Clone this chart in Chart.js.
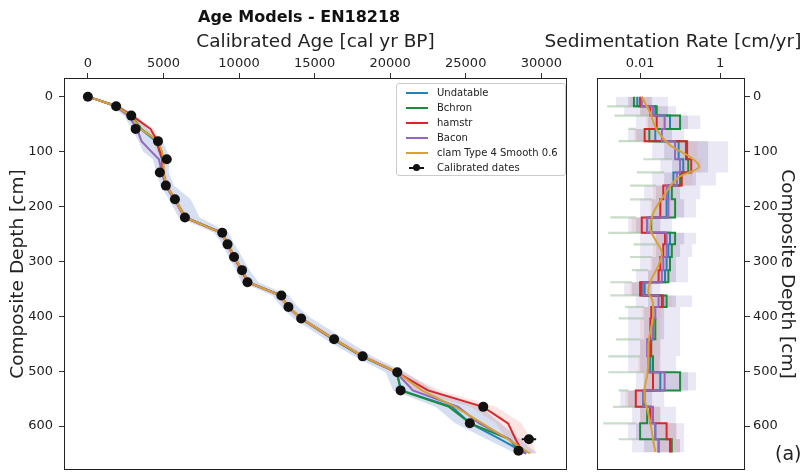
<!DOCTYPE html>
<html>
<head>
<meta charset="utf-8">
<title>Age Models - EN18218</title>
<script src="https://cdn.jsdelivr.net/npm/chart.js@4.4.1/dist/chart.umd.min.js"></script>
<style>
  html, body { margin: 0; padding: 0; background: #fff; }
  #wrap { position: relative; width: 806px; height: 475px; overflow: hidden; font-family: "DejaVu Sans", sans-serif; }
  #ageChart { position: absolute; left: 0; top: 0; }
  #rateChart { position: absolute; left: 540px; top: 0; }
  #mainTitle { position: absolute; left: 198px; top: 7px; font-size: 16px; line-height: 20px; font-weight: bold; color: #111; white-space: nowrap; }
  #legend { position: absolute; left: 396px; top: 83px; width: 170px; height: 93px; box-sizing: border-box;
            border: 1px solid #cccccc; border-radius: 3px; background: rgba(255,255,255,0.8);
            font-size: 10px; color: #222; }
  #legend .row { position: absolute; left: 0; height: 15px; line-height: 15px; white-space: nowrap; }
  #legend .sw { position: absolute; left: 9px; top: 6.5px; width: 22px; height: 0; border-top: 2px solid; }
  #legend .dot { position: absolute; left: 16px; top: 4px; width: 7px; height: 7px; border-radius: 50%; background: #111; }
  #legend .bar { position: absolute; left: 12px; top: 6.5px; width: 15px; height: 0; border-top: 2px solid #111; }
  #legend .tx { position: absolute; left: 40px; top: 0; }
  #tag { position: absolute; left: 775px; top: 442px; font-size: 19px; color: #222; }
</style>
</head>
<body>
<div id="wrap">
  <canvas id="ageChart" width="590" height="475"></canvas>
  <canvas id="rateChart" width="266" height="475"></canvas>
  <div id="mainTitle">Age Models - EN18218</div>
  <div id="legend"></div>
  <div id="tag">(a)</div>
</div>
<script>
// ---------- axis ticks ----------
const ageTicks = [0, 5000, 10000, 15000, 20000, 25000, 30000];
const depthTicks = [0, 100, 200, 300, 400, 500, 600];
const rateTicks = [0.01, 1];

// ---------- calibrated dates (age in cal yr BP, depth in cm) ----------
const dateDepth = [0, 17.6, 34.5, 58.7, 81, 114, 138, 162, 187, 220, 248, 269, 292, 316, 338, 362, 383, 404, 442, 473, 502, 535, 565, 595, 624, 645];
const dateAge   = [0, 1870, 2870, 3160, 4640, 5220, 4760, 5160, 5760, 6420, 8890, 9240, 9670, 10200, 10560, 12800, 13270, 14110, 16290, 18180, 20470, 20690, 26160, 25270, 29180, 28490];
const dateErr   = [60, 120, 120, 120, 150, 150, 150, 150, 150, 150, 150, 150, 150, 150, 150, 200, 200, 200, 200, 200, 200, 200, 250, 250, 480, 250];

// ---------- age-depth models ----------
const modelDepth   = [0, 17, 35, 59, 81, 100, 114, 138, 162, 187, 220, 248, 269, 292, 316, 338, 362, 383, 404, 442, 473, 502, 535, 565, 595, 624, 650];
const undatableAge = [0, 1850, 2850, 3500, 4500, 4750, 4900, 4950, 5150, 5750, 6450, 8850, 9250, 9700, 10200, 10600, 12700, 13250, 14100, 16250, 18150, 20400, 20750, 24100, 25300, 27300, 29000];
const bchronAge    = [0, 1850, 2900, 3550, 4600, 4800, 4950, 4950, 5150, 5750, 6450, 8850, 9250, 9700, 10200, 10600, 12750, 13250, 14100, 16250, 18150, 20450, 20700, 23900, 25300, 27900, 28700];
const hamstrAge    = [0, 1900, 2950, 4150, 4600, 4750, 4950, 5000, 5200, 5750, 6400, 8850, 9250, 9650, 10150, 10550, 12750, 13250, 14100, 16300, 18200, 20450, 22500, 26150, 27800, 28300, 28800];
const baconAge     = [0, 1800, 2700, 3250, 3550, 4200, 4700, 4900, 5150, 5700, 6500, 8800, 9250, 9700, 10200, 10650, 12700, 13250, 14150, 16300, 18200, 20400, 21500, 24500, 25900, 27900, 29000];
const clamAge      = [0, 1850, 2850, 3500, 4650, 4900, 5000, 5000, 5200, 5750, 6450, 8800, 9250, 9700, 10200, 10600, 12700, 13250, 14100, 16300, 18200, 20450, 22100, 24300, 26100, 27800, 29250];

// uncertainty envelopes (age)
const envLoAge = [0, 1500, 2400, 2900, 3350, 3650, 4300, 4550, 4800, 5350, 6000, 8350, 8900, 9300, 9800, 10150, 12200, 12800, 13600, 15700, 17600, 19700, 20200, 23000, 24300, 26400, 28300];
const envHiAge = [0, 2150, 3150, 3950, 4950, 5250, 5400, 5350, 5700, 6800, 7400, 9300, 9700, 10200, 10700, 11300, 13300, 13900, 14800, 17000, 18800, 21000, 22900, 26000, 27300, 28600, 29700];
const hamLoAge = [0, 1750, 2750, 3800, 4300, 4550, 4800, 4850, 5050, 5550, 6200, 8600, 9050, 9450, 9950, 10300, 12500, 13000, 13850, 16000, 17900, 20150, 21500, 25300, 27000, 27700, 28300];
const hamHiAge = [0, 2050, 3150, 4400, 4800, 4950, 5100, 5150, 5400, 5950, 6650, 9100, 9450, 9850, 10350, 10800, 13000, 13500, 14350, 16600, 18500, 20800, 23300, 27000, 28700, 29300, 29700];

// ---------- sedimentation rates (cm/yr), stepwise between segment depths ----------
const segDepth = [0, 17.6, 34.5, 58.7, 81, 114, 138, 162, 187, 220, 248, 269, 292, 316, 338, 362, 383, 404, 442, 473, 502, 535, 565, 595, 624, 648];
const undatableRate = [0.0085, 0.024, 0.056, 0.024, 0.092, 0.12, 0.068, 0.051, 0.046, 0.015, 0.056, 0.051, 0.046, 0.042, 0.013, 0.038, 0.021, 0.021, 0.016, 0.018, 0.032, 0.012, 0.018, 0.024, 0.029];
const bchronRate    = [0.0070, 0.026, 0.10, 0.017, 0.14, 0.16, 0.10, 0.062, 0.075, 0.019, 0.075, 0.062, 0.056, 0.051, 0.011, 0.046, 0.021, 0.024, 0.019, 0.021, 0.10, 0.013, 0.015, 0.010, 0.062];
const hamstrRate    = [0.010, 0.018, 0.026, 0.013, 0.15, 0.19, 0.11, 0.038, 0.032, 0.011, 0.042, 0.038, 0.032, 0.029, 0.010, 0.035, 0.019, 0.018, 0.018, 0.016, 0.021, 0.0078, 0.018, 0.046, 0.056];
const baconRate     = [0.011, 0.021, 0.041, 0.035, 0.075, 0.10, 0.083, 0.046, 0.051, 0.015, 0.046, 0.046, 0.038, 0.035, 0.012, 0.029, 0.024, 0.021, 0.015, 0.016, 0.041, 0.012, 0.021, 0.024, 0.029];
const clamRateDepth = [0, 30, 60, 90, 110, 127, 147, 177, 213, 240, 265, 285, 307, 337, 355, 375, 398, 428, 453, 478, 508, 532, 551, 569, 593, 624, 647];
const clamRate      = [0.011, 0.018, 0.026, 0.060, 0.18, 0.30, 0.091, 0.042, 0.021, 0.018, 0.026, 0.035, 0.029, 0.018, 0.016, 0.021, 0.021, 0.018, 0.016, 0.016, 0.015, 0.013, 0.013, 0.015, 0.018, 0.021, 0.024];

// rate uncertainty envelopes (per segment)
const outerLoRate = [0.0025, 0.004, 0.0079, 0.005, 0.02, 0.032, 0.02, 0.0126, 0.01, 0.005, 0.01, 0.01, 0.01, 0.0079, 0.004, 0.0079, 0.005, 0.005, 0.005, 0.005, 0.0079, 0.0032, 0.0063, 0.005, 0.0063];
const outerHiRate = [0.05, 0.079, 0.32, 0.126, 1.58, 1.58, 0.79, 0.32, 0.25, 0.063, 0.25, 0.2, 0.158, 0.158, 0.032, 0.2, 0.1, 0.1, 0.1, 0.079, 0.25, 0.04, 0.079, 0.126, 0.126];
const innerLoRate = [0.005, 0.01, 0.0158, 0.0079, 0.04, 0.063, 0.04, 0.025, 0.02, 0.0079, 0.025, 0.025, 0.02, 0.0158, 0.0063, 0.0158, 0.0126, 0.0126, 0.01, 0.01, 0.0126, 0.005, 0.01, 0.0079, 0.0126];
const innerHiRate = [0.02, 0.05, 0.158, 0.063, 0.5, 0.5, 0.25, 0.1, 0.126, 0.032, 0.126, 0.1, 0.079, 0.079, 0.02, 0.079, 0.04, 0.04, 0.032, 0.032, 0.158, 0.02, 0.032, 0.079, 0.1];
const hamLoRate   = [0.0056, 0.010, 0.014, 0.0072, 0.083, 0.10, 0.061, 0.021, 0.018, 0.0061, 0.023, 0.021, 0.018, 0.016, 0.0056, 0.019, 0.011, 0.010, 0.010, 0.0089, 0.012, 0.0043, 0.010, 0.026, 0.031];
const hamHiRate   = [0.018, 0.032, 0.047, 0.023, 0.27, 0.34, 0.20, 0.068, 0.058, 0.020, 0.076, 0.068, 0.058, 0.052, 0.018, 0.063, 0.034, 0.032, 0.032, 0.029, 0.038, 0.014, 0.032, 0.083, 0.10];
// low-rate whiskers of the Bchron range at each segment boundary
const spikeTipRate = [0.0015, 0.0023, 0.0051, 0.0029, 0.012, 0.0083, 0.0056, 0.0056, 0.0018, 0.0016, 0.0068, 0.0056, 0.0062, 0.0018, 0.0018, 0.0042, 0.0029, 0.0025, 0.0016, 0.0016, 0.0029, 0.0021, 0.0012, 0.0029];

// ---------- styling ----------
const FONT = '"DejaVu Sans", sans-serif';
const TEXT = '#222';
const LABEL_SIZE = 18.5;
const modelNames  = ['Undatable', 'Bchron', 'hamstr', 'Bacon', 'clam Type 4 Smooth 0.6'];
const modelColors = ['#2283b8', '#1b8c3b', '#d8262a', '#9467bd', '#d6a234'];

Chart.defaults.font.family = FONT;
Chart.defaults.color = TEXT;

const pairs = (xs, ys) => ys.map((y, i) => ({ x: xs[i], y }));
const steps = (rates) => segDepth.map((d, i) => ({ x: rates[Math.min(i, rates.length - 1)], y: d }));

// rectangular frame around the plotting area
const framePlugin = {
  id: 'frame',
  afterDraw(chart) {
    const { ctx, chartArea: a } = chart;
    ctx.save();
    ctx.strokeStyle = '#222';
    ctx.lineWidth = 1;
    const l = Math.round(a.left) + 0.5, t = Math.round(a.top) + 0.5;
    ctx.strokeRect(l, t, Math.round(a.right) - l - 0.5, Math.round(a.bottom) - t - 0.5);
    ctx.restore();
  }
};

// fixed axis thickness; no extra room reserved for end labels
const fixWidth = w => s => { s.width = w; s.paddingTop = 0; s.paddingBottom = 0; };
const fixHeight = h => s => { s.height = h; s.paddingLeft = 0; s.paddingRight = 0; };

const tickGrid = { display: true, drawOnChartArea: false, drawTicks: true, tickLength: 5, color: '#333', lineWidth: 1 };
const line = (label, data, color, order, extra) => Object.assign({
  label, data, borderColor: color, backgroundColor: color, borderWidth: 2,
  pointRadius: 0, fill: false, tension: 0, order
}, extra || {});
const edge = (data, order, extra) => Object.assign({
  data, borderWidth: 0, borderColor: 'rgba(0,0,0,0)', pointRadius: 0, fill: false, tension: 0, order
}, extra || {});

// ---------- age-depth panel ----------
const errPts = [];
dateDepth.forEach((d, i) => {
  errPts.push({ x: dateAge[i] - dateErr[i], y: d }, { x: dateAge[i] + dateErr[i], y: d }, { x: null, y: d });
});

new Chart(document.getElementById('ageChart'), {
  type: 'line',
  data: {
    datasets: [
      { label: 'Calibrated dates', data: pairs(dateAge, dateDepth), showLine: false, pointRadius: 5,
        pointBackgroundColor: '#111', pointBorderWidth: 0, order: 0 },
      line('dateErr', errPts, '#111', 0, { borderWidth: 2, spanGaps: false }),
      line(modelNames[4], pairs(clamAge, modelDepth), modelColors[4], 1),
      line(modelNames[3], pairs(baconAge, modelDepth), modelColors[3], 2),
      line(modelNames[2], pairs(hamstrAge, modelDepth), modelColors[2], 3),
      line(modelNames[1], pairs(bchronAge, modelDepth), modelColors[1], 4),
      line(modelNames[0], pairs(undatableAge, modelDepth), modelColors[0], 5),
      edge(pairs(envLoAge, modelDepth), 20),
      edge(pairs(envHiAge, modelDepth), 20, { fill: 7, backgroundColor: 'rgba(120,150,210,0.3)' }),
      edge(pairs(hamLoAge, modelDepth), 19),
      edge(pairs(hamHiAge, modelDepth), 19, { fill: 9, backgroundColor: 'rgba(225,110,95,0.18)' })
    ]
  },
  options: {
    responsive: false, animation: false, indexAxis: 'y',
    layout: { padding: { left: 0, right: 23, top: 0, bottom: 5 } },
    plugins: { legend: { display: false }, tooltip: { enabled: false } },
    scales: {
      x: {
        type: 'linear', position: 'top', min: -1580, max: 31700,
        afterBuildTicks: s => { s.ticks = ageTicks.map(v => ({ value: v })); },
        afterFit: fixHeight(78),
        ticks: { font: { size: 13 }, padding: 2, maxRotation: 0, autoSkip: false, callback: v => String(v) },
        grid: tickGrid, border: { display: false },
        title: { display: true, text: 'Calibrated Age [cal yr BP]', font: { size: LABEL_SIZE }, padding: { top: 30.9, bottom: 0 } }
      },
      y: {
        type: 'linear', position: 'left', reverse: true, min: -34, max: 680,
        afterBuildTicks: s => { s.ticks = depthTicks.map(v => ({ value: v })); },
        afterFit: fixWidth(64),
        ticks: { font: { size: 13 }, padding: 6, autoSkip: false, callback: v => String(v) },
        grid: tickGrid, border: { display: false },
        title: { display: true, text: 'Composite Depth [cm]', font: { size: LABEL_SIZE }, padding: { top: 7.4, bottom: 0 } }
      }
    }
  },
  plugins: [framePlugin]
});

// ---------- sedimentation-rate panel ----------
const spikePts = [];
spikeTipRate.forEach((tip, i) => {
  const d = segDepth[i + 1];
  spikePts.push({ x: tip, y: d }, { x: innerLoRate[i + 1], y: d }, { x: null, y: d });
});

new Chart(document.getElementById('rateChart'), {
  type: 'line',
  data: {
    datasets: [
      line(modelNames[4], pairs(clamRate, clamRateDepth), modelColors[4], 1, { cubicInterpolationMode: 'monotone' }),
      line(modelNames[3], steps(baconRate), modelColors[3], 2, { stepped: 'after' }),
      line(modelNames[2], steps(hamstrRate), modelColors[2], 3, { stepped: 'after' }),
      line(modelNames[1], steps(bchronRate), modelColors[1], 4, { stepped: 'after' }),
      line(modelNames[0], steps(undatableRate), modelColors[0], 5, { stepped: 'after' }),
      line('Bchron range', spikePts, 'rgba(150,185,150,0.5)', 15, { borderWidth: 2.2, spanGaps: false }),
      edge(steps(hamLoRate), 17, { stepped: 'after' }),
      edge(steps(hamHiRate), 17, { stepped: 'after', fill: 6, backgroundColor: 'rgba(225,150,140,0.2)' }),
      edge(steps(innerLoRate), 18, { stepped: 'after' }),
      edge(steps(innerHiRate), 18, { stepped: 'after', fill: 8, backgroundColor: 'rgba(150,140,180,0.3)' }),
      edge(steps(outerLoRate), 20, { stepped: 'after' }),
      edge(steps(outerHiRate), 20, { stepped: 'after', fill: 10, backgroundColor: 'rgba(175,165,215,0.25)' })
    ]
  },
  options: {
    responsive: false, animation: false, indexAxis: 'y',
    layout: { padding: { left: 0, right: 0, top: 0, bottom: 5 } },
    plugins: {
      legend: { display: false }, tooltip: { enabled: false },
      title: { display: true, text: 'Sedimentation Rate [cm/yr]', color: TEXT, font: { size: LABEL_SIZE, weight: 'normal' },
               padding: { top: 30.9, bottom: 0 } }
    },
    scales: {
      x: {
        type: 'logarithmic', position: 'top', min: 0.00085, max: 4.2,
        afterBuildTicks: s => { s.ticks = rateTicks.map(v => ({ value: v })); },
        afterFit: fixHeight(78 - 53.1),
        ticks: { font: { size: 13 }, padding: 2, maxRotation: 0, autoSkip: false,
                 callback: v => (v === 0.01 ? '0.01' : v === 1 ? '1' : '') },
        grid: tickGrid, border: { display: false }
      },
      y: {
        type: 'linear', position: 'right', reverse: true, min: -34, max: 680,
        afterBuildTicks: s => { s.ticks = depthTicks.map(v => ({ value: v })); },
        afterFit: fixWidth(61),
        ticks: { font: { size: 13 }, padding: 3, autoSkip: false, callback: v => String(v) },
        grid: tickGrid, border: { display: false },
        title: { display: true, text: 'Composite Depth [cm]', font: { size: LABEL_SIZE }, padding: { top: 7.9, bottom: 0 } }
      },
      // empty spacer on the left so the panel sits beside the age-depth plot
      spacer: {
        type: 'linear', position: 'left', display: true,
        afterFit: fixWidth(57.3),
        ticks: { display: false }, grid: { display: false }, border: { display: false }
      }
    }
  },
  plugins: [framePlugin]
});

// ---------- legend ----------
const legend = document.getElementById('legend');
modelNames.forEach((name, i) => {
  const row = document.createElement('div');
  row.className = 'row';
  row.style.top = (1 + i * 15) + 'px';
  row.innerHTML = '<span class="sw" style="border-color:' + modelColors[i] + '"></span><span class="tx"></span>';
  row.querySelector('.tx').textContent = name;
  legend.appendChild(row);
});
const dateRow = document.createElement('div');
dateRow.className = 'row';
dateRow.style.top = (1 + modelNames.length * 15) + 'px';
dateRow.innerHTML = '<span class="bar"></span><span class="dot"></span><span class="tx">Calibrated dates</span>';
legend.appendChild(dateRow);
</script>
</body>
</html>
